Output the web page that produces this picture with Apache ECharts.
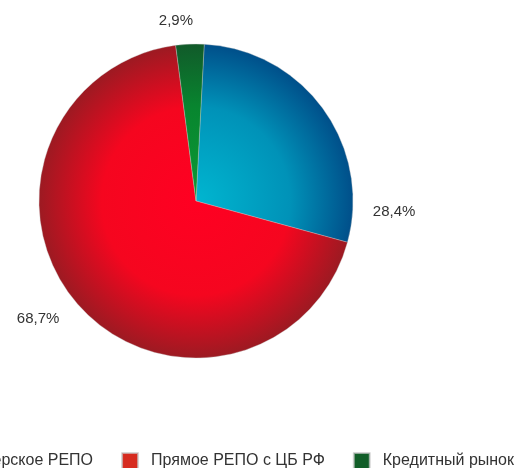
<!DOCTYPE html>
<html>
<head>
<meta charset="utf-8">
<script src="https://cdn.jsdelivr.net/npm/echarts@6/dist/echarts.min.js"></script>
<style>
    html, body {margin: 0; padding: 0; background: #fff;}
    #main {width: 520px; height: 468px;}
</style>
</head>
<body>
<div id="main"></div>
<script>
var names = ['Междилерское РЕПО', 'Прямое РЕПО с ЦБ РФ', 'Кредитный рынок'];
var values = [28.4, 68.7, 2.9];
var legendColors = ['#005a96', '#d62b1f', '#115e28'];
// inner / outer colours of the shading
var innerColors = ['#00b6d0', '#ff0022', '#0a9a35'];
var midColors = ['#0092b8', '#f5061f', '#08852f'];
var outerColors = ['#004f8a', '#9c1a22', '#115a2a'];

var W = 520, H = 468;
var cx = 196, cy = 201, R = 157;

function shade(i) {
    return new echarts.graphic.RadialGradient(cx, cy, R, [
        {offset: 0, color: innerColors[i]},
        {offset: 0.6, color: midColors[i]},
        {offset: 1, color: outerColors[i]}
    ], true);
}

var data = [];
for (var i = 0; i < values.length; i++) {
    data.push({
        name: names[i],
        value: values[i],
        itemStyle: {color: shade(i)}
    });
}
var legendData = [];
for (var j = 0; j < names.length; j++) {
    legendData.push({name: names[j], itemStyle: {color: legendColors[j]}});
}

var myChart = echarts.init(document.getElementById('main'));
var option = {
    backgroundColor: '#fff',
    animation: false,
    legend: {
        data: legendData,
        left: -98,
        width: 900,
        top: 452,
        padding: 0,
        icon: 'rect',
        itemWidth: 16,
        itemHeight: 16,
        itemGap: 28,
        selectedMode: false,
        textStyle: {
            color: '#333',
            fontSize: 16,
            fontFamily: 'Liberation Sans',
            padding: [0, 0, 0, 8]
        }
    },
    series: [{
        type: 'pie',
        center: [cx, cy],
        radius: R,
        startAngle: 87,
        clockwise: true,
        data: data,
        itemStyle: {
            borderColor: 'rgba(200,200,200,0.7)',
            borderWidth: 0.5
        },
        label: {
            show: true,
            position: 'outside',
            distanceToLabelLine: 1,
            color: '#333',
            fontSize: 15,
            fontFamily: 'Liberation Sans',
            formatter: function (p) {
                return String(p.value.toFixed(1)).replace('.', ',') + '%';
            }
        },
        labelLine: {show: false, length: 23, length2: 0},
        labelLayout: function (params) {
            //подпись синего сектора стоит ниже
            if (params.dataIndex === 0) {
                return {dx: 30, dy: 116};
            }
            if (params.dataIndex === 2) {
                return {dx: 5};
            }
            return {};
        }
    }]
};
myChart.setOption(option, true);
</script>
</body>
</html>
